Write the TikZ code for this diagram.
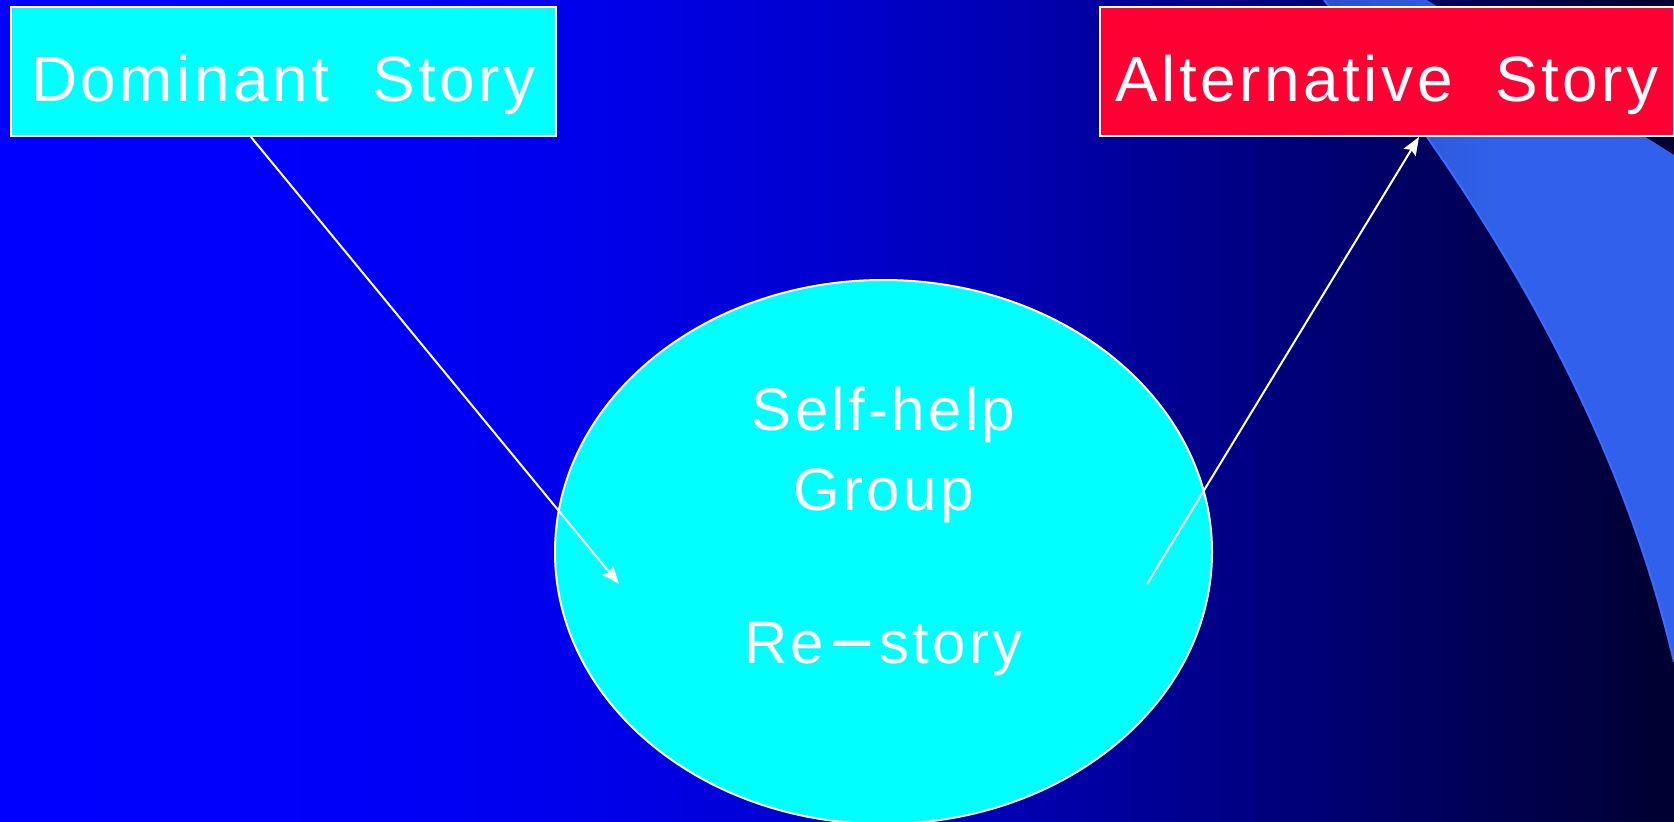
\documentclass[tikz,border=0pt]{standalone}
\usepackage{fontspec}
\setmainfont{Liberation Sans}[LetterSpace=5.5]
\usetikzlibrary{shapes.geometric,arrows.meta}
\definecolor{cyanfill}{RGB}{0,255,255}
\definecolor{redfill}{RGB}{255,0,51}
\definecolor{bandA}{RGB}{44,80,204}
\definecolor{bandB}{RGB}{49,97,236}
\definecolor{bandedge}{RGB}{58,108,255}
\definecolor{bgA}{RGB}{0,0,255}
\definecolor{bgB}{RGB}{0,0,250}
\definecolor{bgC}{RGB}{0,0,235}
\definecolor{bgD}{RGB}{0,0,205}
\definecolor{bgE}{RGB}{0,0,180}
\definecolor{bgF}{RGB}{0,0,145}
\definecolor{bgG}{RGB}{0,0,112}
\definecolor{bgH}{RGB}{0,0,80}
\definecolor{bgI}{RGB}{0,0,48}
% visible part of a declared shading is 25bp..75bp
\pgfdeclarehorizontalshading{bgshade}{100bp}{color(0bp)=(bgA); color(25bp)=(bgA); color(35bp)=(bgB); color(42.5bp)=(bgC); color(50bp)=(bgD); color(55bp)=(bgE); color(60bp)=(bgF); color(65bp)=(bgG); color(70bp)=(bgH); color(75bp)=(bgI); color(100bp)=(bgI)}
\pgfdeclarehorizontalshading{bandshade}{100bp}{color(0bp)=(bandA); color(25bp)=(bandA); color(50bp)=(bandB); color(100bp)=(bandB)}
\tikzset{
  bigtext/.style={font=\fontsize{64}{70}\selectfont, text=white},
  midtext/.style={font=\fontsize{60}{66}\selectfont, text=white, inner sep=0},
  storybox/.style={rectangle, draw=white, line width=2, inner sep=0, text height=46, text depth=0, bigtext},
  groupshape/.style={ellipse, draw=white, line width=2, fill=cyanfill, inner sep=0},
  link/.style={draw=white, line width=2, -{Stealth[length=18,width=14,inset=3]}}
}
\begin{document}
\begin{tikzpicture}[x=1pt,y=-1pt]
\useasboundingbox (0,0) rectangle (1674,822);
\clip (0,0) rectangle (1674,822);
\shade[shading=bgshade] (0,0) rectangle (1674,822);
% light blue band on the right
\shade[shading=bandshade] (1324,0) .. controls (1505,225) and (1622,440) .. (1674,662) -- (1680,662) -- (1680,158.7) -- (1427,0) -- cycle;
\draw[bandedge, line width=2] (1324,0) .. controls (1505,225) and (1622,440) .. (1674,662);
% boxes
\node[storybox, fill=cyanfill, minimum width=545, minimum height=129] (dom) at (283.5,71.5) {\raisebox{-6.5pt}{Dominant~~Story}};
\node[storybox, fill=redfill, minimum width=574, minimum height=129] (alt) at (1387,71.5) {\raisebox{-6.5pt}{Alternative~~Story}};
% ellipse
\node[groupshape, minimum width=657, minimum height=544] (grp) at (883.5,552) {};
\node[midtext, anchor=base] (t1) at (883.5,430) {Self-help};
\node[midtext, anchor=base] (t2) at (883.5,510) {Group};
\node[midtext, anchor=base] (t3) at (883.5,663) {Re\kern9pt\scalebox{0.62}[1.3]{—}\kern9pt story};
% connectors
\coordinate (a1s) at ([xshift=-32.5]dom.south);
\coordinate (a1e) at (619,584);
\coordinate (a2s) at (1147,584);
\coordinate (a2e) at ([xshift=32]alt.south);
\draw[link] (a1s) -- (a1e);
\draw[link] (a2s) -- (a2e);
\end{tikzpicture}
\end{document}
